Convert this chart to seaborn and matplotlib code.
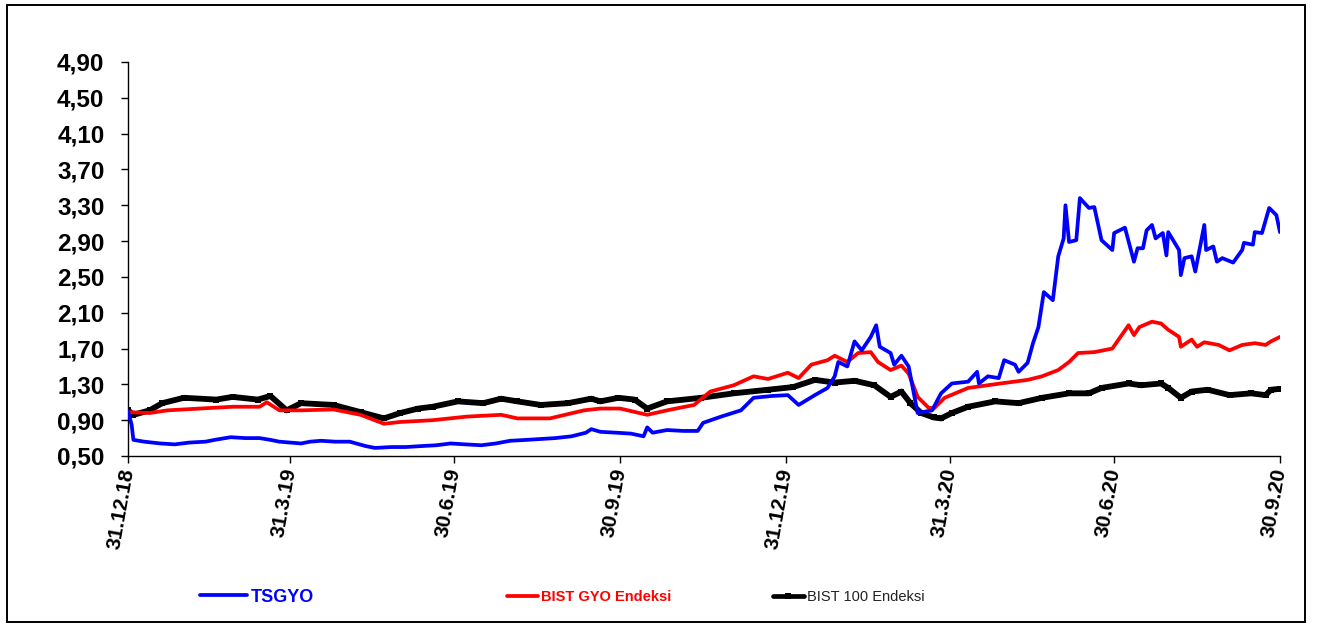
import numpy as np
import pandas as pd
import matplotlib
matplotlib.use("Agg")
import matplotlib.pyplot as plt
from matplotlib import font_manager as fm
import seaborn as sns
from matplotlib.lines import Line2D
from matplotlib.patches import Rectangle

START = "2018-12-31"

series_names = ["TSGYO", "BIST GYO Endeksi", "BIST 100 Endeksi"]

# days since 31.12.2018 and index values
tsgyo_days = [0, 2, 3, 9, 18, 26, 34, 43, 48, 57,
              65, 73, 79, 84, 90, 96, 101, 107, 115, 123,
              132, 137, 146, 154, 162, 171, 179, 187, 196, 204,
              212, 221, 229, 237, 246, 254, 257, 262, 271, 279,
              286, 288, 291, 299, 308, 316, 319, 329, 340, 347,
              357, 366, 372, 381, 388, 392, 394, 399, 403, 407,
              412, 415, 417, 423, 425, 429, 433, 438, 446, 451,
              457, 466, 471, 472, 477, 483, 486, 492, 494, 499,
              502, 505, 508, 513, 516, 519, 520, 522, 526, 528,
              533, 536, 540, 546, 547, 553, 558, 560, 563, 565,
              568, 570, 574, 576, 577, 583, 584, 586, 590, 592,
              597, 598, 602, 604, 607, 613, 618, 619, 624, 625,
              629, 633, 636, 637, 639]
tsgyo_vals = [1.00, 0.85, 0.68, 0.66, 0.64, 0.63, 0.65, 0.66, 0.68, 0.71,
              0.70, 0.70, 0.68, 0.66, 0.65, 0.64, 0.66, 0.67, 0.66, 0.66,
              0.61, 0.59, 0.60, 0.60, 0.61, 0.62, 0.64, 0.63, 0.62, 0.64,
              0.67, 0.68, 0.69, 0.70, 0.72, 0.76, 0.80, 0.77, 0.76, 0.75,
              0.72, 0.82, 0.76, 0.79, 0.78, 0.78, 0.87, 0.94, 1.01, 1.15,
              1.17, 1.18, 1.07, 1.18, 1.26, 1.39, 1.55, 1.50, 1.78, 1.68,
              1.83, 1.96, 1.72, 1.65, 1.52, 1.62, 1.50, 0.98, 1.01, 1.20,
              1.31, 1.33, 1.44, 1.31, 1.39, 1.37, 1.57, 1.52, 1.44, 1.54,
              1.76, 1.94, 2.33, 2.24, 2.73, 2.93, 3.30, 2.89, 2.91, 3.38,
              3.27, 3.28, 2.91, 2.80, 2.99, 3.05, 2.67, 2.82, 2.82, 3.02,
              3.08, 2.93, 2.99, 2.74, 3.00, 2.80, 2.52, 2.71, 2.73, 2.56,
              3.08, 2.80, 2.84, 2.67, 2.71, 2.66, 2.80, 2.88, 2.86, 3.00,
              2.99, 3.27, 3.21, 3.19, 3.00]

gyo_days = [0, 12, 22, 40, 58, 73, 77, 84, 96, 114,
            129, 142, 151, 169, 188, 207, 216, 234, 253, 262,
            273, 288, 299, 314, 323, 336, 347, 355, 366, 372,
            379, 388, 392, 399, 405, 412, 416, 423, 429, 433,
            438, 444, 447, 453, 466, 484, 499, 507, 516, 522,
            527, 536, 546, 555, 558, 561, 568, 573, 577, 583,
            584, 590, 593, 597, 605, 611, 618, 625, 631, 634,
            639]
gyo_vals = [0.99, 0.98, 1.01, 1.03, 1.05, 1.05, 1.10, 1.01, 1.01, 1.02,
            0.96, 0.86, 0.88, 0.90, 0.94, 0.96, 0.92, 0.92, 1.01, 1.03,
            1.03, 0.96, 1.01, 1.07, 1.22, 1.29, 1.39, 1.36, 1.43, 1.37,
            1.52, 1.57, 1.62, 1.55, 1.65, 1.66, 1.55, 1.46, 1.51, 1.42,
            1.16, 1.04, 1.03, 1.15, 1.26, 1.31, 1.35, 1.39, 1.46, 1.55,
            1.65, 1.66, 1.70, 1.96, 1.85, 1.94, 2.00, 1.98, 1.91, 1.83,
            1.72, 1.80, 1.72, 1.77, 1.74, 1.68, 1.74, 1.76, 1.74, 1.78,
            1.83]

bist100_days = [0, 3, 12, 19, 31, 49, 58, 72, 79, 88,
                96, 114, 129, 142, 151, 161, 169, 183, 197, 207,
                216, 229, 244, 257, 262, 272, 281, 288, 299, 318,
                336, 355, 369, 381, 392, 403, 414, 423, 429, 434,
                440, 447, 451, 457, 466, 481, 494, 507, 522, 533,
                540, 555, 562, 573, 577, 584, 590, 599, 611, 623,
                631, 634, 639]
bist100_vals = [1.01, 0.96, 1.01, 1.09, 1.15, 1.13, 1.16, 1.13, 1.17, 1.01,
                1.09, 1.07, 0.99, 0.92, 0.98, 1.03, 1.05, 1.11, 1.09, 1.14,
                1.11, 1.07, 1.09, 1.14, 1.11, 1.15, 1.13, 1.03, 1.11, 1.15,
                1.20, 1.24, 1.27, 1.35, 1.32, 1.34, 1.29, 1.16, 1.22, 1.09,
                0.98, 0.93, 0.92, 0.98, 1.05, 1.11, 1.09, 1.15, 1.20, 1.20,
                1.26, 1.31, 1.29, 1.31, 1.26, 1.15, 1.22, 1.24, 1.18, 1.20,
                1.18, 1.24, 1.25]

tick_dates = ["2018-12-31", "2019-03-31", "2019-06-30", "2019-09-30",
              "2019-12-31", "2020-03-31", "2020-06-30", "2020-09-30"]
tick_labels = ["31.12.18", "31.3.19", "30.6.19", "30.9.19",
               "31.12.19", "31.3.20", "30.6.20", "30.9.20"]
y_ticks = [0.50, 0.90, 1.30, 1.70, 2.10, 2.50, 2.90, 3.30, 3.70, 4.10, 4.50, 4.90]

sns.set_theme(style="white")
plt.rcParams['font.family'] = ['Liberation Sans', 'DejaVu Sans']

installed = {f.name for f in fm.fontManager.ttflist}
if "Liberation Sans Narrow" in installed:
    NARROW = dict(family=["Liberation Sans Narrow", "DejaVu Sans"], size=12.5)
else:
    NARROW = dict(family=["Liberation Sans", "DejaVu Sans"], size=10.5)


def to_df(days, vals):
    return pd.DataFrame({
        "date": pd.Timestamp(START) + pd.to_timedelta(days, unit="D"),
        "value": vals,
    })


fig = plt.figure(figsize=(13.23, 6.27), dpi=100)
ax = fig.add_axes([128 / 1323, 1 - 456 / 627, (1280 - 128) / 1323, (456 - 62) / 627])

BLUE = "#0000FF"
RED = "#FF0000"
BLACK = "#000000"

sns.lineplot(data=to_df(bist100_days, bist100_vals), x="date", y="value", ax=ax,
             color=BLACK, lw=4.2, marker="s", markersize=5, markeredgewidth=0,
             zorder=2)
sns.lineplot(data=to_df(gyo_days, gyo_vals), x="date", y="value", ax=ax,
             color=RED, lw=2.7, zorder=3)
sns.lineplot(data=to_df(tsgyo_days, tsgyo_vals), x="date", y="value", ax=ax,
             color=BLUE, lw=2.7, zorder=4)

ax.set_xlim(pd.Timestamp("2018-12-31"), pd.Timestamp("2020-09-30"))
ax.set_ylim(0.5, 4.9)
ax.set_yticks(y_ticks)
ax.set_yticklabels([f"{v:.2f}".replace(".", ",") for v in y_ticks],
                   fontsize=17.5, fontweight="bold", color="black")
ax.set_xticks(pd.to_datetime(tick_dates))
ax.set_xticklabels(tick_labels, rotation=80, ha="right", va="center",
                   rotation_mode="anchor", fontsize=15, fontweight="bold",
                   color="black")
ax.set_xlabel("")
ax.set_ylabel("")
ax.tick_params(axis="y", left=True, direction="out", length=5, width=1,
               color="black", pad=12)
ax.tick_params(axis="x", bottom=True, direction="out", length=5, width=1,
               color="black", pad=4)
for s in ["top", "right"]:
    ax.spines[s].set_visible(False)
for s in ["left", "bottom"]:
    ax.spines[s].set_color("black")
    ax.spines[s].set_linewidth(1.0)

# legend entries placed separately along the bottom
leg_specs = [
    (series_names[0], BLUE, 2.7, None, 200, 2.6, "bold", BLUE,
     dict(family=["Liberation Sans", "DejaVu Sans"], size=13)),
    (series_names[1], RED, 2.7, None, 507, 2.1, "bold", RED, NARROW),
    (series_names[2], BLACK, 3.4, "s", 773, 2.1, "normal", "#222222", NARROW),
]
for name, col, lw, mk, xpx, hl, fw, tcol, fprop in leg_specs:
    h = Line2D([], [], color=col, lw=lw, marker=mk, markersize=4,
               markeredgewidth=0)
    prop = dict(fprop)
    prop["weight"] = fw
    lg = fig.legend(handles=[h], labels=[name], loc="center left",
                    bbox_to_anchor=(xpx / 1323, 1 - 597 / 627),
                    frameon=False, borderpad=0, borderaxespad=0,
                    handlelength=hl, handletextpad=0.2, prop=prop)
    for t in lg.get_texts():
        t.set_color(tcol)

fig.patches.append(Rectangle((7 / 1323, 5 / 627), (1305 - 7) / 1323, (622 - 5) / 627,
                             transform=fig.transFigure, fill=False,
                             edgecolor="black", lw=1.4))

fig.savefig("out.png", dpi=100, facecolor="white")
